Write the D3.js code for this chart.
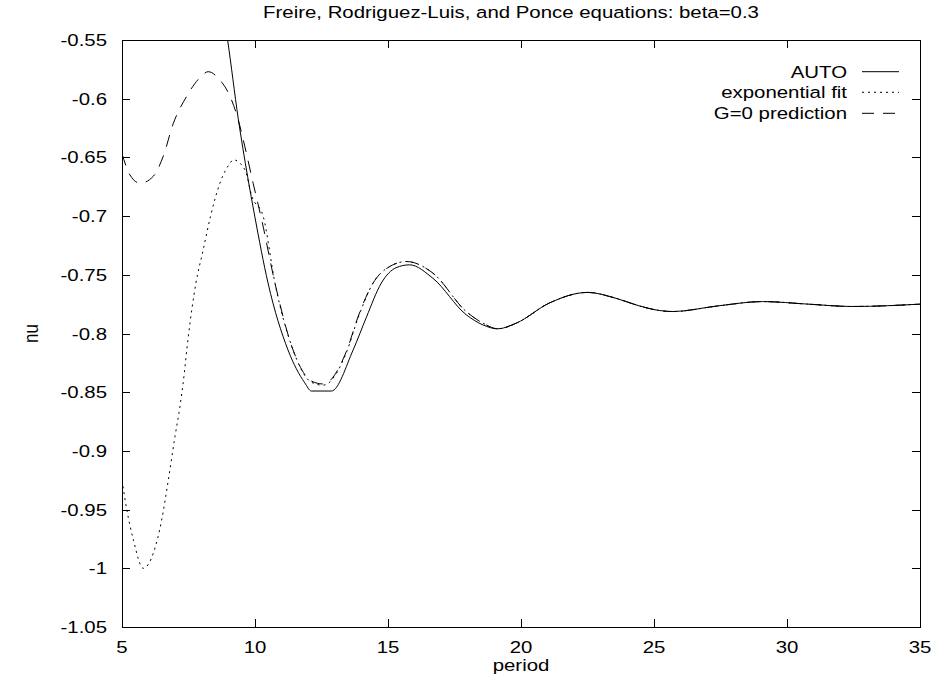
<!DOCTYPE html>
<html>
<head>
<meta charset="utf-8">
<script src="https://cdn.jsdelivr.net/npm/d3@7"></script>
<style>
  html, body { margin: 0; padding: 0; background: #fff; }
  svg { display: block; }
  text { font-family: "Liberation Sans", Arial, Helvetica, sans-serif; fill: #000; }
</style>
</head>
<body>
<svg id="chart" width="934" height="682"></svg>
<script>
// ---- data ----
const title = "Freire, Rodriguez-Luis, and Ponce equations: beta=0.3";
const xLabel = "period";
const yLabel = "nu";
const xTicks = [5, 10, 15, 20, 25, 30, 35];
const yTicks = [-0.55, -0.6, -0.65, -0.7, -0.75, -0.8, -0.85, -0.9, -0.95, -1, -1.05];
const yTickLabels = ["-0.55", "-0.6", "-0.65", "-0.7", "-0.75", "-0.8", "-0.85", "-0.9", "-0.95", "-1", "-1.05"];
const seriesNames = ["AUTO", "exponential fit", "G=0 prediction"];

const periodAuto = [8.85, 8.97, 9.37, 9.72, 9.99, 10.49, 11.24, 11.87, 12.12, 12.87, 13.69, 14.19, 14.75, 15.3, 15.81, 16.69, 17.94, 18.57, 19.13, 19.82, 21.07, 22.5, 23.57, 24.45, 25.2, 25.7, 27.4, 29.08, 30.8, 32.46, 35];
const nuAuto =     [-0.532, -0.55, -0.617, -0.666, -0.700, -0.757, -0.814, -0.842, -0.849, -0.849, -0.814, -0.786, -0.757, -0.744, -0.7415, -0.753, -0.784, -0.7927, -0.796, -0.7912, -0.774, -0.765, -0.770, -0.7765, -0.7804, -0.7813, -0.7765, -0.7728, -0.775, -0.777, -0.775];

const periodFit = [5.0, 5.18, 5.43, 5.8, 6.18, 6.49, 6.74, 6.99, 7.18, 7.3, 7.49, 7.78, 8.05, 8.33, 8.68, 9.06, 9.18, 9.62, 9.88, 10.31, 10.75, 11.43, 12.12, 12.56, 13.44, 13.87, 14.44, 15.06, 15.69, 16.69, 17.94, 18.57, 19.13, 19.82, 21.07, 22.5, 23.57, 24.45, 25.2, 25.7, 27.4, 29.08, 30.8, 32.46, 35];
const nuFit =     [-0.925, -0.950, -0.976, -1.0, -0.987, -0.959, -0.925, -0.888, -0.862, -0.842, -0.803, -0.757, -0.729, -0.700, -0.672, -0.655, -0.652, -0.6605, -0.683, -0.7003, -0.757, -0.814, -0.8415, -0.844, -0.816, -0.787, -0.757, -0.743, -0.7387, -0.7486, -0.7813, -0.7912, -0.796, -0.7912, -0.774, -0.765, -0.770, -0.7765, -0.7804, -0.7813, -0.7765, -0.7728, -0.775, -0.777, -0.775];

const periodG0 = [5.0, 5.3, 5.68, 6.18, 6.55, 6.93, 7.43, 7.93, 8.24, 8.68, 9.06, 9.37, 9.62, 9.93, 10.25, 10.75, 11.43, 12.12, 12.56, 13.44, 13.87, 14.44, 15.06, 15.69, 16.69, 17.94, 18.57, 19.13, 19.82, 21.07, 22.5, 23.57, 24.45, 25.2, 25.7, 27.4, 29.08, 30.8, 32.46, 35];
const nuG0 =     [-0.647, -0.665, -0.672, -0.666, -0.649, -0.621, -0.598, -0.582, -0.577, -0.584, -0.598, -0.618, -0.641, -0.672, -0.703, -0.757, -0.814, -0.8405, -0.843, -0.815, -0.786, -0.757, -0.743, -0.7387, -0.7486, -0.7813, -0.7912, -0.796, -0.7912, -0.774, -0.765, -0.770, -0.7765, -0.7804, -0.7813, -0.7765, -0.7728, -0.775, -0.777, -0.775];

// ---- layout ----
const FS = 17;     // font size
const SX = 1.2;    // horizontal stretch of the text, as in the reference
const margin = { left: 122, right: 14, top: 40, bottom: 55 };
const W = 934, H = 682;
const svg = d3.select("#chart");
const x = d3.scaleLinear().domain([5, 35]).range([margin.left, W - margin.right]);
const y = d3.scaleLinear().domain([-1.05, -0.55]).range([H - margin.bottom, margin.top]);
const x0 = x.range()[0], x1 = x.range()[1], y0 = y.range()[0], y1 = y.range()[1];

function label(g, px, py, txt, anchor, extra) {
  return g.append("text")
    .attr("transform", `translate(${px},${py}) scale(${SX},1)` + (extra || ""))
    .attr("text-anchor", anchor).attr("font-size", FS).text(txt);
}

svg.append("defs").append("clipPath").attr("id", "clip")
  .append("rect").attr("x", x0).attr("y", y1).attr("width", x1 - x0).attr("height", y0 - y1);

// ticks (inward, mirrored)
const tl = 8;
const tickG = svg.append("g").attr("stroke", "#000").attr("stroke-width", 1);
xTicks.forEach(t => {
  const px = Math.round(x(t)) + 0.5;
  tickG.append("line").attr("x1", px).attr("x2", px).attr("y1", y0).attr("y2", y0 - tl);
  tickG.append("line").attr("x1", px).attr("x2", px).attr("y1", y1).attr("y2", y1 + tl);
});
yTicks.forEach(t => {
  const py = Math.round(y(t)) + 0.5;
  tickG.append("line").attr("x1", x0).attr("x2", x0 + tl).attr("y1", py).attr("y2", py);
  tickG.append("line").attr("x1", x1).attr("x2", x1 - tl).attr("y1", py).attr("y2", py);
});
svg.append("rect").attr("x", Math.round(x0) + 0.5).attr("y", Math.round(y1) + 0.5)
  .attr("width", Math.round(x1 - x0)).attr("height", Math.round(y0 - y1))
  .attr("fill", "none").attr("stroke", "#000").attr("stroke-width", 1);

// tick labels
const txtG = svg.append("g");
xTicks.forEach(t => label(txtG, x(t), y0 + 25.5, String(t), "middle"));
yTicks.forEach((t, i) => label(txtG, x0 - 15, y(t) + 6, yTickLabels[i], "end"));

// axis titles and title
label(txtG, (x0 + x1) / 2, y0 + 44, xLabel, "middle");
svg.append("text")
  .attr("transform", `translate(38,${(y0 + y1) / 2}) scale(${SX},1) rotate(-90)`)
  .attr("text-anchor", "middle").attr("font-size", FS).text(yLabel);
label(txtG, 511, 18, title, "middle");

// curves
const dashes = [null, "2,4", "12,9"];
const seriesData = [
  d3.zip(periodAuto, nuAuto),
  d3.zip(periodFit, nuFit),
  d3.zip(periodG0, nuG0)
];
const line = d3.line().x(d => x(d[0])).y(d => y(d[1])).curve(d3.curveMonotoneX);
const plotG = svg.append("g").attr("clip-path", "url(#clip)");
seriesData.forEach((s, i) => {
  plotG.append("path").datum(s).attr("d", line)
    .attr("fill", "none").attr("stroke", "#000").attr("stroke-width", 1)
    .attr("stroke-dasharray", dashes[i]);
});

// legend
const legX = 847, legY = [71.7, 92.3, 113.3];
seriesNames.forEach((n, i) => {
  label(svg, legX, legY[i] + 6, n, "end");
  svg.append("line").attr("x1", 862).attr("x2", 899).attr("y1", legY[i]).attr("y2", legY[i])
    .attr("stroke", "#000").attr("stroke-width", 1).attr("stroke-dasharray", dashes[i]);
});
</script>
</body>
</html>
